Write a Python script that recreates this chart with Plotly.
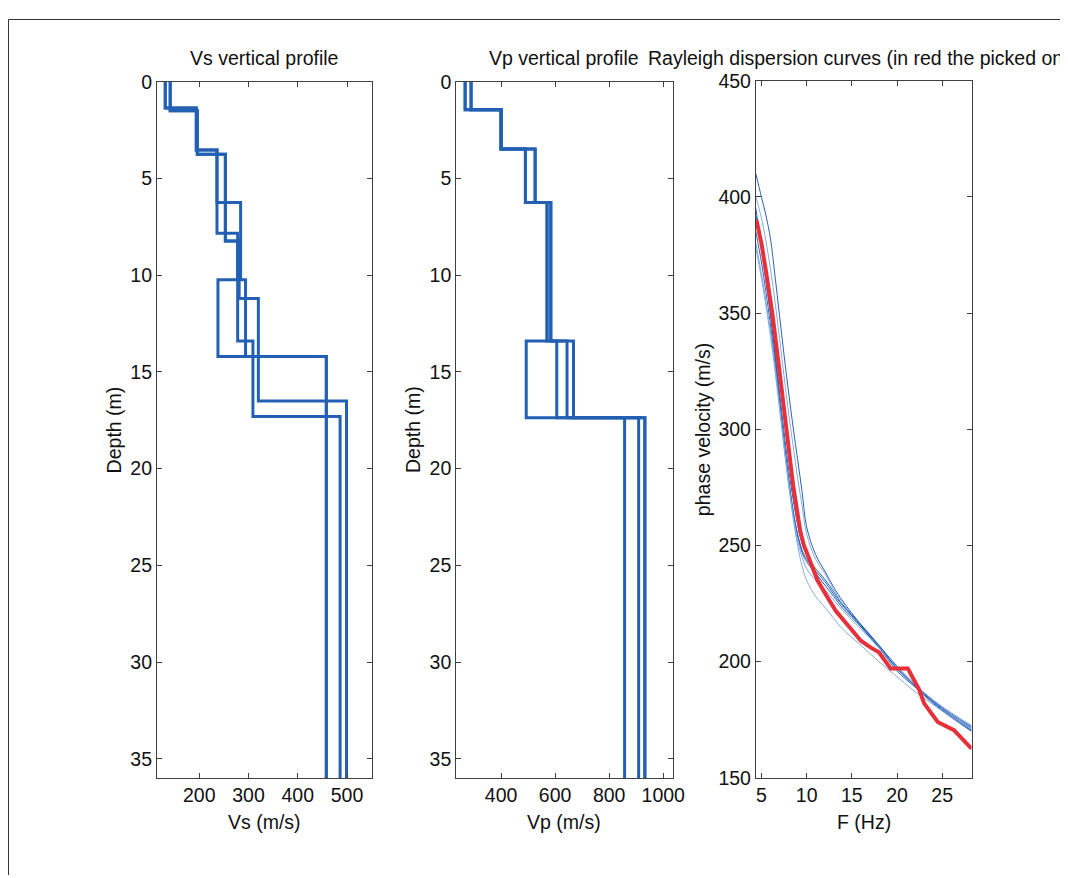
import plotly.graph_objects as go

FW, FH = 1068, 878
# The photographed page is offset/scaled slightly relative to the figure;
# these constants map target picture pixels back to figure pixels.
SX, SY, OYR, BODY = 0.99, 0.976, 10.3, 8

# ---------------- data ----------------
max_depth = 36.0

# Vs models: layer velocities (m/s) and interface depths (m)
vs_models = [
    [131, 194, 236, 278, 238, 458],
    [131, 194, 236, 284, 294, 458],
    [141, 196, 253, 281, 320, 499],
    [141, 196, 253, 278, 309, 486],
]
vs_interfaces = [
    [1.35, 3.52, 7.83, 10.24, 14.2],
    [1.35, 3.52, 6.24, 10.24, 14.2],
    [1.5, 3.74, 8.23, 11.2, 16.5],
    [1.5, 3.74, 8.23, 13.4, 17.3],
]

# Vp models
vp_models = [
    [267, 400, 490, 570, 493, 857],
    [289, 400, 526, 584, 668, 932],
    [267, 400, 490, 570, 606, 909],
    [289, 400, 526, 584, 644, 932],
]
vp_interfaces = [1.45, 3.48, 6.24, 13.4, 17.37]

# Rayleigh dispersion curves (theoretical, blue)
freq = [4.38, 5, 5.5, 6, 6.5, 7, 7.5, 8, 8.5, 9, 9.5, 10, 11, 12, 13, 14, 16, 18, 20, 22, 24, 26, 28.25]
disp_curves = [
    [410, 400, 392, 382, 366, 349, 332, 316, 301, 287, 273, 258, 246, 239, 232, 226, 216, 207, 198, 190, 183, 177, 171.5],
    [400, 391, 381, 369, 355, 339, 323, 307, 293, 279, 267, 255, 244, 238, 231, 225.5, 215, 206, 197.5, 190, 183, 177, 171],
    [395, 378, 364, 349, 332, 313, 295, 279, 265, 254, 247, 243, 238, 233, 228, 223, 215, 206, 196, 189, 182, 176, 170],
    [385, 372, 359, 345, 329, 311, 294, 278, 265, 255, 248, 244, 239, 234.5, 229, 224, 215.5, 206.5, 197, 190, 183, 177.5, 172],
    [380, 367, 355, 342, 327, 310, 293, 277, 263, 252, 245, 240, 235, 231, 226.5, 222, 214, 206, 197, 190, 183.5, 178, 172.5],
    [378, 365, 353, 340, 325, 309, 292, 276, 262, 250, 241, 235, 228, 223.5, 218.5, 214, 207, 200, 193.5, 187, 181.5, 176, 170.5],
    [392, 379, 366, 351, 334, 316, 299, 283, 270, 259, 251, 246, 240, 235.5, 230, 224.5, 216, 207, 197, 189.5, 182.5, 176.5, 170.5],
]
disp_colors = ["#2a62b5", "#86acdf", "#1f5aa8", "#2f68b8", "#7ea7dc", "#86acdf", "#2a62b5"]

# picked (experimental) curve, red
picked_freq = [4.45, 5.0, 5.5, 6.2, 7.0, 7.8, 8.5, 9.3, 9.7, 10.2, 11.2, 12.1, 13.2, 14.7,
               16.0, 17.1, 18.0, 19.3, 21.2, 22.45, 23.0, 24.5, 26.3, 28.25]
picked_vel = [390, 380, 368, 350, 325, 300, 276, 256, 250, 245, 235, 229, 222, 215,
              209, 206, 204, 197, 197, 188, 182, 174, 170.5, 162.5]

# ---------------- helpers ----------------
def step_profile(vels, interfaces, bottom):
    xs, ys = [], []
    tops = [0.0] + list(interfaces)
    bots = list(interfaces) + [bottom]
    for v, t, b in zip(vels, tops, bots):
        xs += [v, v]
        ys += [t, b]
    return xs, ys

def px_x(r):
    return (r / SX - BODY) / FW

def px_y(r):
    return 1 - ((r - OYR) / SY - BODY) / FH

BLUE = "#2360b3"
fig = go.Figure()

for vels, intf in zip(vs_models, vs_interfaces):
    x, y = step_profile(vels, intf, max_depth)
    fig.add_trace(go.Scatter(x=x, y=y, mode="lines", line=dict(color=BLUE, width=3),
                             xaxis="x", yaxis="y", showlegend=False))

for vels in vp_models:
    x, y = step_profile(vels, vp_interfaces, max_depth)
    fig.add_trace(go.Scatter(x=x, y=y, mode="lines", line=dict(color=BLUE, width=3),
                             xaxis="x2", yaxis="y2", showlegend=False))

for c, col in zip(disp_curves, disp_colors):
    fig.add_trace(go.Scatter(x=freq, y=c, mode="lines", line=dict(color=col, width=1, shape="spline"),
                             xaxis="x3", yaxis="y3", showlegend=False))

fig.add_trace(go.Scatter(x=picked_freq, y=picked_vel, mode="lines",
                         line=dict(color="#e8303a", width=4),
                         xaxis="x3", yaxis="y3", showlegend=False))

# ---------------- layout ----------------
FONT = "Arial, Liberation Sans, sans-serif"
FS = 19.5
axis_common = dict(showline=True, mirror="allticks", ticks="inside", ticklen=5,
                   linecolor="#404040", tickcolor="#404040", linewidth=1,
                   showgrid=False, zeroline=False,
                   tickfont=dict(family=FONT, size=FS, color="#111111"))

fig.update_layout(
    width=FW, height=FH,
    margin=dict(l=0, r=0, t=0, b=0),
    paper_bgcolor="white", plot_bgcolor="white",
    xaxis=dict(domain=[px_x(157), px_x(372)], range=[114, 550],
               tickvals=[200, 300, 400, 500], anchor="y", **axis_common),
    yaxis=dict(domain=[px_y(778), px_y(81)], range=[max_depth, 0],
               tickvals=[0, 5, 10, 15, 20, 25, 30, 35], anchor="x", **axis_common),
    xaxis2=dict(domain=[px_x(456.7), px_x(674)], range=[234, 1037],
                tickvals=[400, 600, 800, 1000], anchor="y2", **axis_common),
    yaxis2=dict(domain=[px_y(778), px_y(81)], range=[max_depth, 0],
                tickvals=[0, 5, 10, 15, 20, 25, 30, 35], anchor="x2", **axis_common),
    xaxis3=dict(domain=[px_x(756.7), px_x(972.7)], range=[4.38, 28.25],
                tickvals=[5, 10, 15, 20, 25], anchor="y3", **axis_common),
    yaxis3=dict(domain=[px_y(777.7), px_y(80)], range=[150, 450],
                tickvals=[150, 200, 250, 300, 350, 400, 450], anchor="x3", **axis_common),
)

def ann(text, x, y, angle=0):
    return dict(text=text, x=px_x(x), y=px_y(y), xref="paper", yref="paper",
                xanchor="center", yanchor="middle", showarrow=False, textangle=angle,
                font=dict(family=FONT, size=FS, color="#111111"))

fig.update_layout(annotations=[
    ann("Vs vertical profile", 264.5, 57),
    ann("Vp vertical profile", 565, 57),
    ann("Rayleigh dispersion curves (in red the picked one)", 864.7, 57),
    ann("Vs (m/s)", 264.5, 822),
    ann("Vp (m/s)", 565, 822),
    ann("F (Hz)", 864.7, 822),
    ann("Depth (m)", 113.5, 429.5, -90),
    ann("Depth (m)", 413.5, 429.5, -90),
    ann("phase velocity (m/s)", 704.5, 429, -90),
])

# window frame (top and left edges)
fig.update_layout(shapes=[
    dict(type="line", xref="paper", yref="paper", x0=0.5 / FW, x1=1, y0=1 - 0.5 / FH, y1=1 - 0.5 / FH,
         line=dict(color="#333333", width=1)),
    dict(type="line", xref="paper", yref="paper", x0=0.5 / FW, x1=0.5 / FW, y0=1 - 0.5 / FH, y1=0,
         line=dict(color="#333333", width=1)),
])

fig.write_html("out.html")
